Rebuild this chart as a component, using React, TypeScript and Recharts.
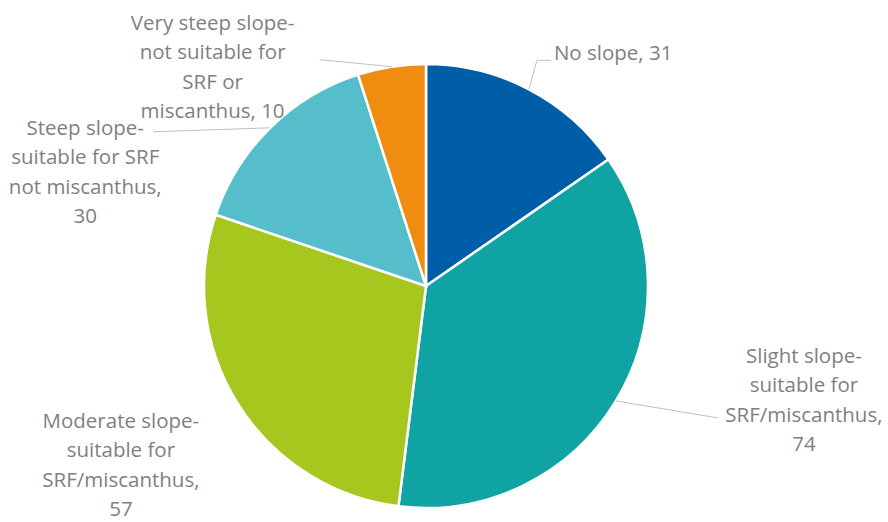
import { PieChart, Pie, Cell } from 'recharts'

const names = [
  'No slope',
  'Slight slope-suitable for SRF/miscanthus',
  'Moderate slope-suitable for SRF/miscanthus',
  'Steep slope-suitable for SRF not miscanthus',
  'Very steep slope-not suitable for SRF or miscanthus',
]
const values = [31, 74, 57, 30, 10]
// label text as it is broken in the picture
const labelLines = [
  ['No slope, 31'],
  ['Slight slope-', 'suitable for', 'SRF/miscanthus,', '74'],
  ['Moderate slope-', 'suitable for', 'SRF/miscanthus,', '57'],
  ['Steep slope-', 'suitable for SRF', 'not miscanthus,', '30'],
  ['Very steep slope-', 'not suitable for', 'SRF or', 'miscanthus, 10'],
]

const COLORS = ['#005EA8', '#10A3A3', '#A6C81E', '#56BECB', '#F08C10']
const TEXT = '#7F7F7F'
const LEADER = '#BFBFBF'
const LINE_H = 29.5

// label placement relative to the slice's edge point (dx,dy of text, leader path)
const labelPos = [
  { dx: 25, dy: -37, anchor: 'start', leader: [[8, -29], [22, -29]] },
  { dx: 188, dy: -46, anchor: 'middle', leader: [[102, 17]] },
  { dx: -117, dy: 16, anchor: 'middle', leader: [] },
  { dx: -185, dy: -1, anchor: 'middle', leader: [[-117, 4]] },
  { dx: -179, dy: -45, anchor: 'middle', leader: [[-72, -7]] },
]

const RAD = Math.PI / 180

const renderLabel = (p: any) => {
  const { cx, cy, midAngle, outerRadius, index } = p
  const ex = cx + outerRadius * Math.cos(-midAngle * RAD)
  const ey = cy + outerRadius * Math.sin(-midAngle * RAD)
  const pos = labelPos[index]
  const pts = [[ex, ey], ...pos.leader.map(([x, y]) => [ex + x, ey + y])]
  return (
    <g key={`lbl-${index}`}>
      {pos.leader.length > 0 && (
        <polyline
          points={pts.map(q => q.join(',')).join(' ')}
          fill="none"
          stroke={LEADER}
          strokeWidth={1}
        />
      )}
      <text
        x={ex + pos.dx}
        y={ey + pos.dy}
        textAnchor={pos.anchor}
        fill={TEXT}
        fontSize={20.5}
        fontFamily="'Open Sans', sans-serif"
      >
        {labelLines[index].map((t, i) => (
          <tspan key={i} x={ex + pos.dx} y={ey + pos.dy + i * LINE_H} dominantBaseline="central">
            {t}
          </tspan>
        ))}
      </text>
    </g>
  )
}

export default function App() {
  const data = names.map((n, i) => ({ name: n, value: values[i] }))
  return (
    <div style={{ position: 'absolute', left: 0, top: 0, width: 888, height: 522, background: '#fff' }}>
      <PieChart width={888} height={522} margin={{ top: 0, right: 0, bottom: 0, left: 0 }}>
        <Pie
          data={data}
          dataKey="value"
          nameKey="name"
          cx={426}
          cy={286}
          outerRadius={222}
          startAngle={90}
          endAngle={-270}
          stroke="#fff"
          strokeWidth={2.5}
          labelLine={false}
          label={renderLabel}
          isAnimationActive={false}
        >
          {data.map((d, i) => (
            <Cell key={d.name} fill={COLORS[i]} />
          ))}
        </Pie>
      </PieChart>
    </div>
  )
}
